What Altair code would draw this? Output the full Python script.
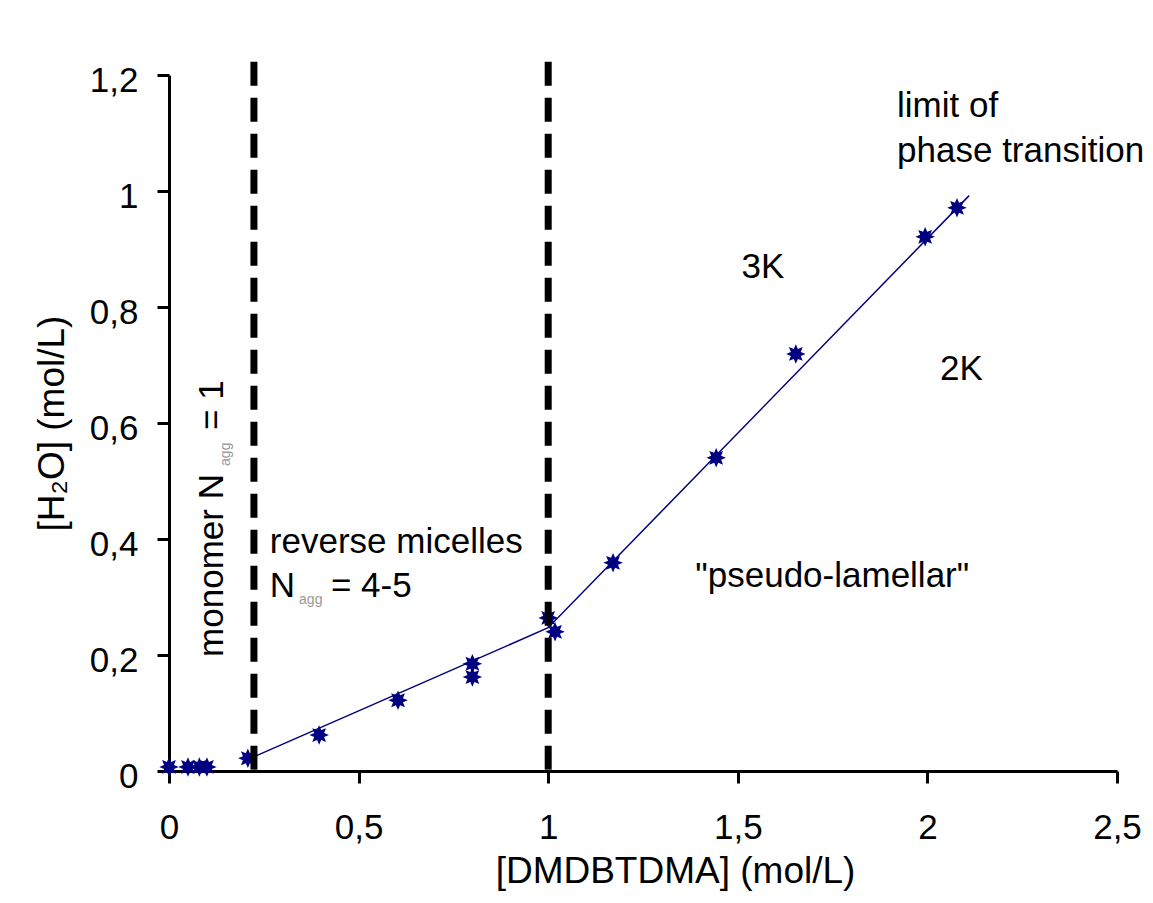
import math
import altair as alt
import pandas as pd

# ---------------- data ----------------
conc = [0.0, 0.05, 0.08, 0.10, 0.208, 0.396, 0.604, 0.80, 0.80, 1.0, 1.018, 1.171, 1.443, 1.653, 1.994, 2.078]
water = [0.007, 0.007, 0.007, 0.007, 0.022, 0.062, 0.122, 0.185, 0.162, 0.264, 0.240, 0.359, 0.540, 0.719, 0.921, 0.971]
fit_x = [0.208, 1.0, 2.11]
fit_y = [0.02, 0.247, 0.992]
boundary_x = [0.224, 1.0]
x_ticks = [0, 0.5, 1, 1.5, 2, 2.5]
y_ticks = [0, 0.2, 0.4, 0.6, 0.8, 1.0, 1.2]

labels_h = ['limit of', 'phase transition', '3K', '2K', '"pseudo-lamellar"',
            'reverse micelles', 'N', '= 4-5']
labels_h_sub = ['agg']
labels_v = ['monomer N', '= 1']
labels_v_sub = ['agg']

# ---------------- layout (annotation anchors, in data units) ----------------
pos_h = {'x': [1.92, 1.92, 1.51, 2.033, 1.388, 0.266, 0.266, 0.427],
         'y': [1.128, 1.0497, 0.8506, 0.6746, 0.3175, 0.376, 0.300, 0.300]}
pos_h_sub = {'x': [0.343], 'y': [0.288]}
pos_v = {'x': [0.1424, 0.1424], 'y': [0.1967, 0.588]}
pos_v_sub = {'x': [0.161], 'y': [0.526]}
boundary_top = 1.223

FONT = 'Liberation Sans'
NAVY = '#000080'

# star marker path (8-pointed, filled)
pts = []
for k in range(16):
    a = math.pi * k / 8
    r = 1.0 if k % 2 == 0 else 0.55
    pts.append(f"{r*math.sin(a):.3f},{-r*math.cos(a):.3f}")
STAR = "M" + "L".join(pts) + "Z"

pts_df = pd.DataFrame({'x': conc, 'y': water})
fit_df = pd.DataFrame({'x': fit_x, 'y': fit_y, 'o': list(range(len(fit_x)))})
bnd_df = pd.DataFrame({'x': boundary_x})
ah = pd.DataFrame({'t': labels_h, **pos_h})
ahs = pd.DataFrame({'t': labels_h_sub, **pos_h_sub})
av = pd.DataFrame({'t': labels_v, **pos_v})
avs = pd.DataFrame({'t': labels_v_sub, **pos_v_sub})

xscale = alt.Scale(domain=[0, 2.5], nice=False, zero=False)
yscale = alt.Scale(domain=[0, 1.2], nice=False, zero=False)

label_expr = "replace(datum.label, '.', ',')"

xaxis = alt.Axis(values=x_ticks, format='.1~f', labelExpr=label_expr,
                 title='[DMDBTDMA] (mol/L)', grid=False,
                 domainColor='black', domainWidth=3, tickColor='black', tickWidth=3, tickSize=12,
                 labelFont=FONT, labelFontSize=35, labelColor='black', labelPadding=27,
                 labelBaseline='top', labelAlign='center',
                 titleFont=FONT, titleFontSize=37, titleFontWeight='normal', titleColor='black',
                 titleX=506, titleY=111, titleBaseline='alphabetic', titleAlign='center')
yaxis = alt.Axis(values=y_ticks, format='.1~f', labelExpr=label_expr,
                 title='[H₂O] (mol/L)', grid=False,
                 domainColor='black', domainWidth=3, tickColor='black', tickWidth=3, tickSize=12,
                 labelFont=FONT, labelFontSize=35, labelColor='black', labelPadding=19,
                 labelOffset=5, labelAlign='right', labelBaseline='middle',
                 titleFont=FONT, titleFontSize=37, titleFontWeight='normal', titleColor='black',
                 titleX=-106, titleY=348, titleAngle=270, titleBaseline='alphabetic',
                 titleAlign='center')

line = alt.Chart(fit_df).mark_line(color=NAVY, strokeWidth=1.5).encode(
    x=alt.X('x:Q', scale=xscale, axis=xaxis),
    y=alt.Y('y:Q', scale=yscale, axis=yaxis),
    order='o:Q')

points = alt.Chart(pts_df).mark_point(shape=STAR, filled=True, color=NAVY, size=380, opacity=1).encode(
    x=alt.X('x:Q', scale=xscale),
    y=alt.Y('y:Q', scale=yscale))

rules = alt.Chart(bnd_df).mark_rule(color='black', strokeWidth=7, strokeDash=[24, 12]).encode(
    x=alt.X('x:Q', scale=xscale),
    y=alt.datum(boundary_top, scale=yscale),
    y2=alt.datum(0))

txt_h = alt.Chart(ah).mark_text(font=FONT, fontSize=35, color='black', align='left',
                                baseline='alphabetic').encode(
    x=alt.X('x:Q', scale=xscale), y=alt.Y('y:Q', scale=yscale), text='t:N')
txt_hs = alt.Chart(ahs).mark_text(font=FONT, fontSize=14, color='#999999', align='left',
                                  baseline='alphabetic').encode(
    x=alt.X('x:Q', scale=xscale), y=alt.Y('y:Q', scale=yscale), text='t:N')
txt_v = alt.Chart(av).mark_text(font=FONT, fontSize=35, color='black', align='left',
                                baseline='alphabetic', angle=270).encode(
    x=alt.X('x:Q', scale=xscale), y=alt.Y('y:Q', scale=yscale), text='t:N')
txt_vs = alt.Chart(avs).mark_text(font=FONT, fontSize=14, color='#999999', align='left',
                                  baseline='alphabetic', angle=270).encode(
    x=alt.X('x:Q', scale=xscale), y=alt.Y('y:Q', scale=yscale), text='t:N')

chart = alt.layer(line, points, rules, txt_h, txt_hs, txt_v, txt_vs).properties(
    width=948, height=696,
    autosize=alt.AutoSizeParams(type='none'),
    padding={'left': 161, 'top': 67, 'right': 28, 'bottom': 124},
    background='white',
).configure_view(stroke=None)

chart.save("out.html", embed_options={"renderer": "svg", "actions": False})
